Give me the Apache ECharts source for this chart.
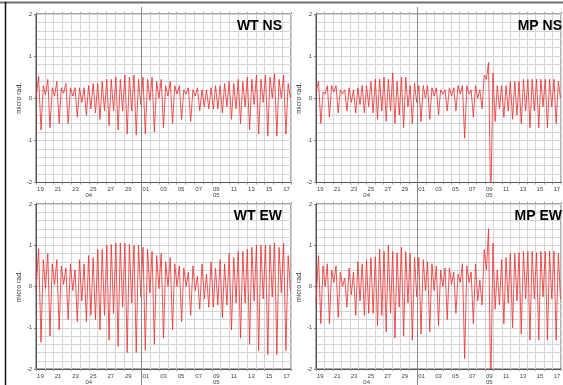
<!DOCTYPE html>
<html>
<head>
<meta charset="utf-8">
<script src="https://cdn.jsdelivr.net/npm/echarts@6/dist/echarts.min.js"></script>
<style>
  html, body { margin: 0; padding: 0; background: #fff; }
  #chart { width: 563px; height: 385px; }
</style>
</head>
<body>
<div id="chart"></div>
<script>
// day labels, Apr 19 .. May 17 (x = days since Apr 19 00:00)
const dayLabels = ['19','20','21','22','23','24','25','26','27','28','29','30',
  '01','02','03','04','05','06','07','08','09','10','11','12','13','14','15','16','17'];
const monthLabels = ['04', '05'];

// times of the turning points (days)
const turnDays = [0, 0.30, 0.57, 0.83, 1.08, 1.34, 1.59, 1.85, 2.11, 2.37, 2.63, 2.88, 3.14, 3.40,
  3.66, 3.92, 4.18, 4.44, 4.70, 4.95, 5.21, 5.47, 5.73, 5.98, 6.24, 6.50, 6.76, 7.02, 7.28, 7.53,
  7.79, 8.05, 8.31, 8.56, 8.82, 9.08, 9.34, 9.59, 9.85, 10.11, 10.37, 10.62, 10.88, 11.14, 11.40,
  11.66, 11.92, 12.17, 12.43, 12.69, 12.95, 13.20, 13.46, 13.72, 13.98, 14.24, 14.50, 14.75, 15.01,
  15.27, 15.53, 15.78, 16.04, 16.30, 16.56, 16.81, 17.07, 17.33, 17.59, 17.85, 18.11, 18.36, 18.62,
  18.88, 19.14, 19.39, 19.65, 19.91, 20.17, 20.42, 20.68, 20.94, 21.20, 21.45, 21.71, 21.97, 22.23,
  22.49, 22.75, 23.00, 23.26, 23.52, 23.78, 24.03, 24.29, 24.55, 24.81, 25.07, 25.32, 25.58, 25.84,
  26.10, 26.36, 26.61, 26.87, 27.13, 27.39, 27.64, 27.90, 28.16, 28.42, 28.68, 28.93];

const wtNs = [0.0,
  0.52,-0.75, 0.3,0.08, 0.45,-0.7, 0.25,0.05,
  0.4,-0.6, 0.25,0.12, 0.35,-0.6, 0.25,0.05,
  0.25,-0.45, 0.25,-0.1, 0.25,-0.4, 0.3,-0.25,
  0.35,-0.35, 0.35,-0.5, 0.4,-0.3, 0.45,-0.65,
  0.45,-0.3, 0.5,-0.75, 0.45,-0.3, 0.55,-0.85,
  0.5,-0.3, 0.55,-0.87, 0.45,-0.15, 0.5,-0.85,
  0.45,-0.05, 0.5,-0.8, 0.4,0.0, 0.45,-0.7,
  0.3,0.05, 0.4,-0.6, 0.3,0.1, 0.3,-0.5,
  0.2,0.1, 0.25,-0.55, 0.2,0.05, 0.25,-0.3,
  0.2,-0.2, 0.2,-0.25, 0.25,-0.25, 0.3,-0.25,
  0.3,-0.35, 0.35,-0.2, 0.4,-0.5, 0.35,-0.25,
  0.45,-0.6, 0.4,-0.2, 0.5,-0.75, 0.45,-0.15,
  0.55,-0.85, 0.45,-0.1, 0.55,-0.9, 0.5,0.0,
  0.58,-0.9, 0.45,0.0, 0.55,-0.85, 0.35,0.0];

const mpNs = [0.15,
  0.4,-0.6, 0.15,0.1, 0.3,-0.45, 0.3,0.15,
  0.3,-0.35, 0.2,0.1, 0.2,-0.3, 0.25,-0.1,
  0.2,-0.35, 0.25,-0.15, 0.3,-0.35, 0.3,-0.2,
  0.4,-0.35, 0.45,-0.5, 0.45,-0.3, 0.5,-0.55,
  0.45,-0.3, 0.6,-0.6, 0.4,-0.4, 0.5,-0.7,
  0.5,-0.2, 0.3,-0.6, 0.35,-0.1, 0.3,-0.55,
  0.3,0.0, 0.3,-0.5, 0.25,0.05, 0.25,-0.4,
  0.2,0.1, 0.2,-0.3, 0.25,0.05, 0.25,-0.3,
  0.3,0.1, 0.3,-0.95, 0.3,0.1, 0.2,-0.45,
  0.3,0.0, 0.2,-0.25, 0.55,0.45, 0.85,-2.6,
  0.6,-0.55, 0.3,-0.25, 0.3,-0.45, 0.3,-0.3,
  0.4,-0.5, 0.4,-0.4, 0.4,-0.6, 0.45,-0.3,
  0.45,-0.7, 0.45,-0.3, 0.45,-0.7, 0.45,-0.2,
  0.45,-0.7, 0.45,-0.2, 0.45,-0.6, 0.4,0.0];

const wtEw = [-0.1,
  0.92,-1.35, 0.65,-0.05, 0.8,-1.2, 0.55,0.05,
  0.65,-1.05, 0.5,0.05, 0.45,-0.8, 0.55,-0.1,
  0.4,-0.85, 0.65,-0.35, 0.55,-0.85, 0.75,-0.7,
  0.7,-0.8, 0.9,-1.05, 0.9,-0.7, 1.0,-1.3,
  1.02,-0.65, 1.05,-1.45, 1.05,-0.5, 1.05,-1.6,
  1.02,-0.4, 1.0,-1.6, 1.0,-0.25, 0.95,-1.55,
  0.9,-0.15, 0.85,-1.4, 0.75,-0.05, 0.8,-1.25,
  0.6,0.0, 0.7,-1.05, 0.55,0.0, 0.5,-0.85,
  0.45,0.0, 0.35,-0.7, 0.5,-0.1, 0.25,-0.55,
  0.55,-0.3, 0.3,-0.5, 0.6,-0.5, 0.45,-0.45,
  0.65,-0.75, 0.55,-0.45, 0.8,-1.05, 0.7,-0.4,
  0.85,-1.25, 0.85,-0.4, 0.9,-1.4, 0.95,-0.35,
  1.0,-1.55, 1.0,-0.3, 1.0,-1.65, 1.0,-0.25,
  1.05,-1.65, 0.95,-0.15, 1.05,-1.55, 0.75,-0.1];

const mpEw = [-0.4,
  0.75,-0.9, 0.5,0.0, 0.55,-0.9, 0.4,0.1,
  0.5,-0.75, 0.35,0.0, 0.2,-0.5, 0.45,-0.2,
  0.35,-0.7, 0.6,-0.35, 0.55,-0.7, 0.65,-0.65,
  0.7,-0.65, 0.72,-0.95, 0.9,-0.7, 0.85,-1.1,
  1.0,-0.65, 0.85,-1.25, 0.82,-0.5, 0.95,-1.2,
  0.85,-0.4, 0.8,-1.3, 0.7,-0.25, 0.7,-1.15,
  0.65,-0.1, 0.6,-1.1, 0.55,-0.1, 0.5,-0.95,
  0.4,0.0, 0.45,-0.8, 0.45,0.05, 0.35,-0.65,
  0.3,0.1, 0.55,-1.75, 0.5,0.1, 0.35,-0.9,
  0.55,-0.35, 0.15,-0.45, 0.9,0.4, 1.4,-2.6,
  1.05,-0.55, 0.4,-0.45, 0.65,-0.9, 0.7,-0.4,
  0.8,-1.0, 0.8,-0.35, 0.82,-1.15, 0.85,-0.3,
  0.85,-1.3, 0.85,-0.3, 0.82,-1.3, 0.85,-0.25,
  0.85,-1.3, 0.85,-0.3, 0.85,-1.3, 0.8,-0.3];

(function () {
  const chart = echarts.init(document.getElementById('chart'));
  const FONT = '"Liberation Sans", Arial, sans-serif';
  const nDays = dayLabels.length;
  const monthStart = dayLabels.indexOf('01');
  const monthMid = [monthStart / 2, (monthStart + nDays) / 2];

  const panels = [
    { title: 'WT NS', values: wtNs, left: 36, top: 14, titleRight: 281, titleTop: 19 },
    { title: 'MP NS', values: mpNs, left: 316, top: 14, titleRight: 1, titleTop: 19 },
    { title: 'WT EW', values: wtEw, left: 36, top: 204, titleRight: 281, titleTop: 209 },
    { title: 'MP EW', values: mpEw, left: 316, top: 204, titleRight: 1, titleTop: 209 }
  ];

  const grid = [], xAxis = [], yAxis = [], series = [], title = [];
  const axisDark = '#555';
  const gridLight = '#d4d4d4';
  const isInt = v => Math.abs(v - Math.round(v)) < 1e-6;
  const noLine = { show: false, onZero: false };

  panels.forEach((p, i) => {
    grid.push({
      left: p.left, top: p.top, width: 255, height: 168.5,
      show: true, borderColor: axisDark, borderWidth: 1, backgroundColor: 'transparent'
    });
    title.push({
      text: p.title, right: p.titleRight, top: p.titleTop, padding: 0,
      textStyle: { fontFamily: FONT, fontSize: 14, fontWeight: 'bold', color: '#000' }
    });
    const base = { gridIndex: i, min: 0, max: nDays };
    // main value axis: daily grid lines
    xAxis.push(Object.assign({}, base, {
      type: 'value', position: 'bottom', interval: 1,
      axisLine: { show: true, onZero: false, lineStyle: { color: axisDark, width: 1 } },
      axisTick: { show: true, length: 2, lineStyle: { color: '#999' } },
      axisLabel: { show: false },
      splitLine: { show: true, lineStyle: { color: gridLight, width: 1 } }
    }));
    // day labels centred on each day
    xAxis.push({
      gridIndex: i, type: 'category', position: 'bottom', data: dayLabels, boundaryGap: true,
      axisLine: noLine, axisTick: { show: false }, splitLine: { show: false },
      axisLabel: { show: true, interval: 1, fontSize: 6, color: '#444', fontFamily: FONT, margin: 4 }
    });
    // month labels and month divider tick
    xAxis.push(Object.assign({}, base, {
      type: 'value', position: 'bottom',
      axisLine: noLine,
      axisTick: { show: true, customValues: [monthStart], length: 17, lineStyle: { color: '#888', width: 1 } },
      axisLabel: {
        show: true, customValues: monthMid, fontSize: 6, color: '#444', fontFamily: FONT, margin: 10,
        formatter: v => (Math.abs(v - monthMid[0]) < 1e-6 ? monthLabels[0] : monthLabels[1])
      },
      splitLine: { show: false }
    }));
    // top ticks
    xAxis.push(Object.assign({}, base, {
      type: 'value', position: 'top', interval: 1,
      axisLine: noLine,
      axisTick: { show: true, length: 2, lineStyle: { color: '#999' } },
      axisLabel: { show: false }, splitLine: { show: false }
    }));
    xAxis.push(Object.assign({}, base, {
      type: 'value', position: 'top',
      axisLine: noLine,
      axisTick: { show: true, customValues: [monthStart], length: 7, lineStyle: { color: '#888', width: 1 } },
      axisLabel: { show: false }, splitLine: { show: false }
    }));

    // y axis with 0.2 grid lines, labels on whole numbers
    yAxis.push({
      gridIndex: i, type: 'value', min: -2, max: 2, interval: 0.2,
      name: 'micro rad.', nameLocation: 'middle', nameGap: 12,
      nameTextStyle: { fontSize: 7, color: '#333', fontFamily: FONT },
      axisLine: { show: true, onZero: false, lineStyle: { color: axisDark, width: 1 } },
      axisTick: { show: false },
      axisLabel: {
        show: true, fontSize: 6, color: '#444', fontFamily: FONT, margin: 4,
        formatter: v => (isInt(v) ? String(Math.round(v)) : '')
      },
      splitLine: { show: true, lineStyle: { color: gridLight, width: 1 } }
    });
    // ticks on whole numbers only
    yAxis.push({
      gridIndex: i, type: 'value', min: -2, max: 2, interval: 1, position: 'left',
      axisLine: noLine,
      axisTick: { show: true, length: 2, lineStyle: { color: '#777' } },
      axisLabel: { show: false }, splitLine: { show: false }
    });

    series.push({
      type: 'line', xAxisIndex: i * 5, yAxisIndex: i * 2,
      data: turnDays.map((t, k) => [t, p.values[k]]),
      showSymbol: false, symbol: 'none', animation: false, clip: true,
      lineStyle: { color: '#ec3434', width: 0.85 },
      markLine: {
        silent: true, symbol: 'none', label: { show: false },
        lineStyle: { color: '#8a8a8a', width: 1, type: 'solid' },
        data: [{ xAxis: monthStart }]
      }
    });
  });

  chart.setOption({
    backgroundColor: '#fff',
    animation: false,
    title, grid, xAxis, yAxis, series,
    graphic: [
      { type: 'line', silent: true, shape: { x1: 0, y1: 2.5, x2: 563, y2: 2.5 },
        style: { stroke: '#6f6f6f', lineWidth: 2 } },
      { type: 'line', silent: true, shape: { x1: 5.5, y1: 2, x2: 5.5, y2: 385 },
        style: { stroke: '#111', lineWidth: 1.5 } }
    ]
  });

  window.addEventListener('resize', () => chart.resize());
})();
</script>
</body>
</html>
